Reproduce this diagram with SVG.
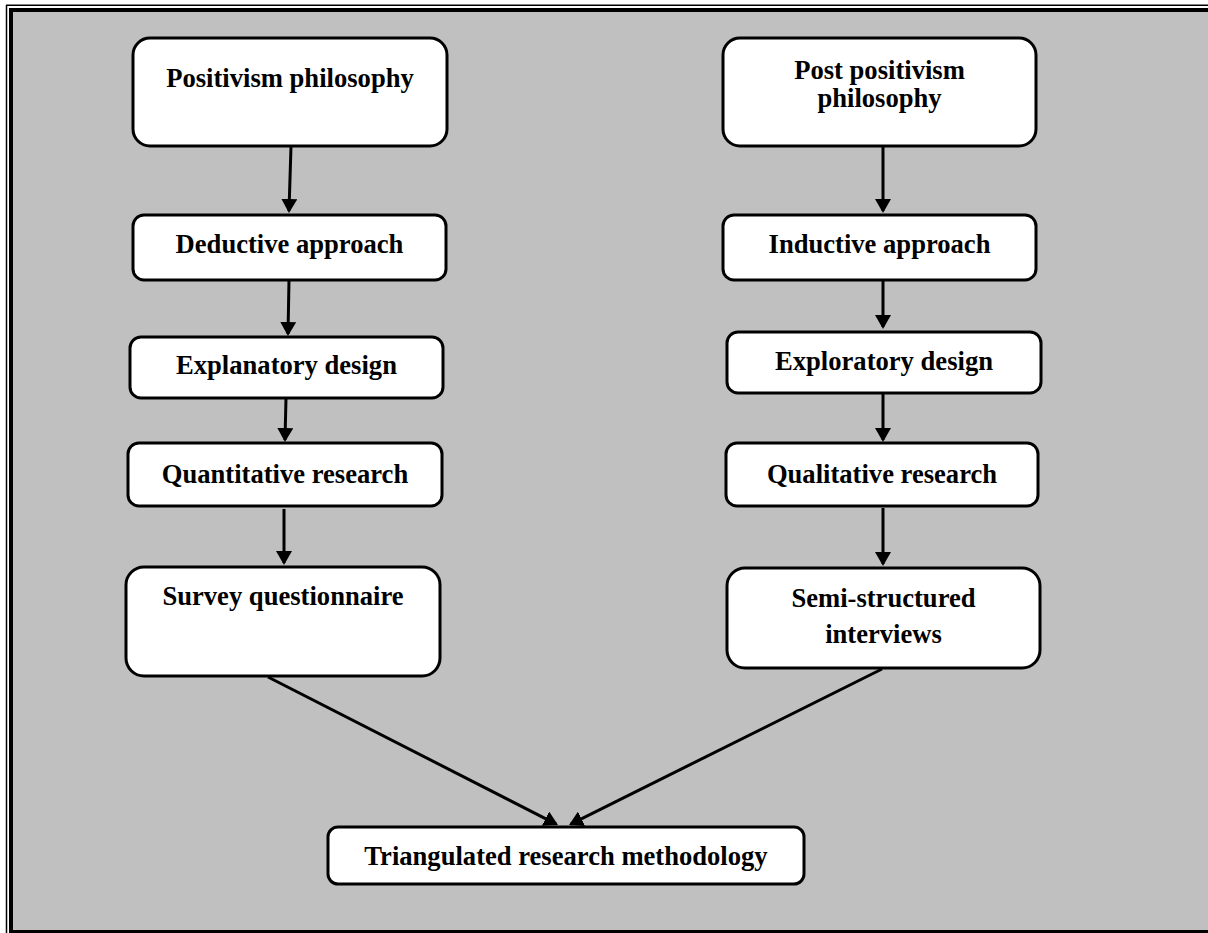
<svg xmlns="http://www.w3.org/2000/svg" width="1208" height="933" viewBox="0 0 1208 933">
<defs>
<style>
.box{fill:#ffffff;stroke:#000000;stroke-width:3}
.lbl{font-family:"Liberation Serif","Times New Roman",serif;font-weight:bold;font-size:26.6px;fill:#000000;text-anchor:middle}
.conn{stroke:#000000;stroke-width:3;fill:none}
</style>
<marker id="ah" markerUnits="userSpaceOnUse" markerWidth="16" markerHeight="16" refX="12" refY="8" orient="auto">
<path d="M0,0 L14,8 L0,16 Z" fill="#000000"/>
</marker>
</defs>
<rect x="0" y="0" width="1208" height="933" fill="#ffffff"/>
<rect x="11" y="10" width="1200" height="921" fill="#c0c0c0" stroke="#000000" stroke-width="4"/>
<line x1="6.5" y1="5" x2="6.5" y2="933" stroke="#000000" stroke-width="1.5"/>
<line x1="6" y1="5.2" x2="1208" y2="5.2" stroke="#000000" stroke-width="1.5"/>
<rect x="13" y="12" width="1195" height="918" fill="#c0c0c0"/>
<line x1="9" y1="931.5" x2="1208" y2="931.5" stroke="#000000" stroke-width="2"/>

<g id="connectors">
<line class="conn" x1="291" y1="146" x2="289" y2="211" marker-end="url(#ah)"/>
<line class="conn" x1="289" y1="280" x2="288" y2="334" marker-end="url(#ah)"/>
<line class="conn" x1="286" y1="398" x2="285" y2="440" marker-end="url(#ah)"/>
<line class="conn" x1="284" y1="509" x2="284" y2="563" marker-end="url(#ah)"/>
<line class="conn" x1="883" y1="146" x2="883" y2="211" marker-end="url(#ah)"/>
<line class="conn" x1="883" y1="280" x2="883" y2="327" marker-end="url(#ah)"/>
<line class="conn" x1="883" y1="393" x2="883" y2="440" marker-end="url(#ah)"/>
<line class="conn" x1="883" y1="508" x2="883" y2="564" marker-end="url(#ah)"/>
<line class="conn" x1="268" y1="677" x2="556.2" y2="824.1" marker-end="url(#ah)"/>
<line class="conn" x1="882" y1="669" x2="570.8" y2="824.1" marker-end="url(#ah)"/>
</g>

<g id="n-positivism">
<rect class="box" x="133" y="38" width="314" height="108" rx="17"/>
<text class="lbl" x="290" y="87">Positivism philosophy</text>
</g>
<g id="n-deductive">
<rect class="box" x="133" y="215" width="313" height="65" rx="11"/>
<text class="lbl" x="289.5" y="253">Deductive approach</text>
</g>
<g id="n-explanatory">
<rect class="box" x="130" y="337" width="313" height="61" rx="11"/>
<text class="lbl" x="286.5" y="374">Explanatory design</text>
</g>
<g id="n-quantitative">
<rect class="box" x="128" y="443" width="314" height="63" rx="11"/>
<text class="lbl" x="285" y="483">Quantitative research</text>
</g>
<g id="n-survey">
<rect class="box" x="126" y="567" width="314" height="109" rx="18"/>
<text class="lbl" x="283" y="605">Survey questionnaire</text>
</g>
<g id="n-postpositivism">
<rect class="box" x="723" y="38" width="313" height="108" rx="17"/>
<text class="lbl" x="879.5" y="79">Post positivism</text>
<text class="lbl" x="879.5" y="107">philosophy</text>
</g>
<g id="n-inductive">
<rect class="box" x="723" y="215" width="313" height="65" rx="11"/>
<text class="lbl" x="879.5" y="253">Inductive approach</text>
</g>
<g id="n-exploratory">
<rect class="box" x="727" y="332" width="314" height="61" rx="11"/>
<text class="lbl" x="884" y="370">Exploratory design</text>
</g>
<g id="n-qualitative">
<rect class="box" x="726" y="443" width="312" height="63" rx="11"/>
<text class="lbl" x="882" y="483">Qualitative research</text>
</g>
<g id="n-semistructured">
<rect class="box" x="727" y="568" width="313" height="100" rx="18"/>
<text class="lbl" x="883.5" y="607">Semi-structured</text>
<text class="lbl" x="883.5" y="643">interviews</text>
</g>
<g id="n-triangulated">
<rect class="box" x="328" y="827" width="476" height="57" rx="10"/>
<text class="lbl" x="566" y="865">Triangulated research methodology</text>
</g>
</svg>
